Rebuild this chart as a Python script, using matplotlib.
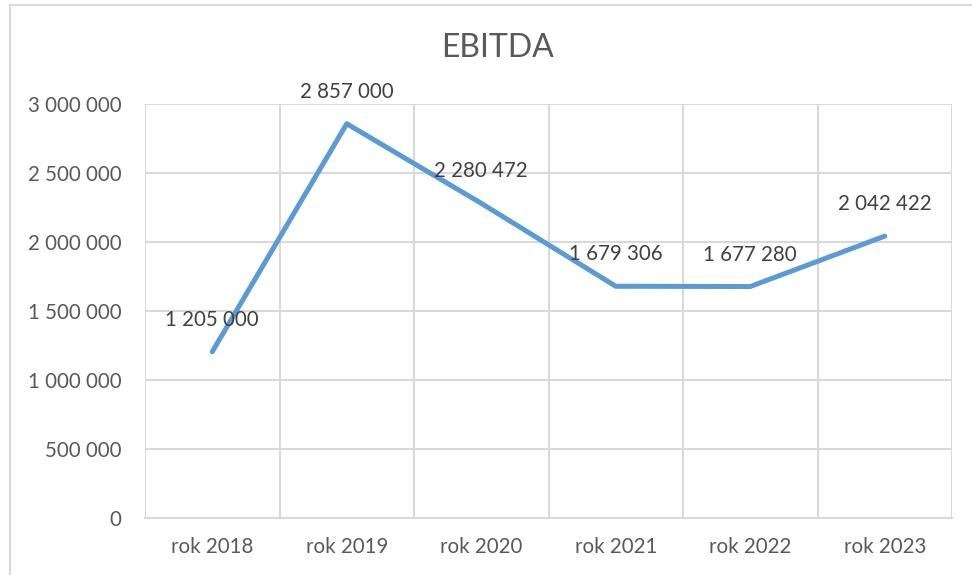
import numpy as np
import matplotlib.pyplot as plt
from matplotlib.patches import Rectangle

years = ["rok 2018", "rok 2019", "rok 2020", "rok 2021", "rok 2022", "rok 2023"]
ebitda = [1205000, 2857000, 2280472, 1679306, 1677280, 2042422]
yticks = [0, 500000, 1000000, 1500000, 2000000, 2500000, 3000000]

plt.rcParams['font.family'] = ['Lato', 'DejaVu Sans']
grey = "#595959"
grid = "#D9D9D9"

def fmt(v):
    return f"{v:,}".replace(",", " ")

fig = plt.figure(figsize=(9.72, 5.75), dpi=100)
fig.patches.append(Rectangle((10/972, -0.1), 1.2, 1 - 5/575 + 0.1, transform=fig.transFigure,
                             fill=False, edgecolor=grid, lw=1.5))
ax = fig.add_axes([145/972, 1 - 518/575, (952 - 145)/972, (518 - 104)/575])

x = np.arange(len(years))
ax.plot(x, ebitda, color="#5B9BD5", lw=3.6, solid_capstyle="round", zorder=3)
for xi, v in zip(x, ebitda):
    ax.annotate(fmt(v), (xi, v), xytext=(0, 23), textcoords="offset points",
                ha="center", va="center", fontsize=14.8, color="#404040", zorder=4)

ax.set_xlim(-0.5, len(years) - 0.5)
ax.set_ylim(0, 3000000)
ax.set_xticks(x)
ax.set_xticklabels(years)
ax.set_xticks(np.arange(-0.5, len(years)), minor=True)
ax.set_yticks(yticks)
ax.set_yticklabels([fmt(v) for v in yticks])
ax.grid(axis="y", color=grid, lw=1.5)
ax.grid(axis="x", which="minor", color=grid, lw=1.5)
ax.tick_params(axis="both", which="both", length=0, colors=grey, labelsize=14.8)
ax.tick_params(axis="y", pad=17)
ax.tick_params(axis="x", pad=14)
for s in ["top", "left", "right"]:
    ax.spines[s].set_visible(False)
ax.spines["bottom"].set_color(grid)
ax.spines["bottom"].set_linewidth(1.5)

fig.text(497/972, 1 - 48/575, "EBITDA", ha="center", va="center", fontsize=23, color=grey)

fig.savefig("out.png", dpi=100)
